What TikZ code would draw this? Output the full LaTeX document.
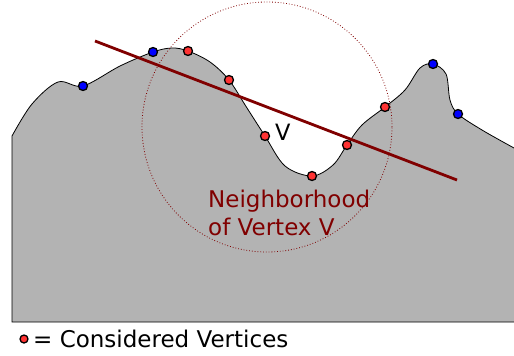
\documentclass[tikz,border=0pt]{standalone}
\usepackage{fontspec}
\setmainfont{DejaVu Sans}
\definecolor{dred}{HTML}{800000}
\definecolor{vred}{HTML}{FF3333}
\definecolor{vblue}{HTML}{0000FF}
\definecolor{terrain}{HTML}{B3B3B3}
\tikzset{
  vtx/.style={circle, draw=black, line width=1.3pt, inner sep=0pt, minimum size=9pt},
  redv/.style={vtx, fill=vred},
  bluev/.style={vtx, fill=vblue},
  lbl/.style={inner sep=0pt, anchor=west, align=left}
}
\begin{document}
\begin{tikzpicture}[x=1pt,y=-1pt]
\useasboundingbox (0,0) rectangle (514,356);
% terrain
\filldraw[fill=terrain, draw=black, line width=0.8pt] (514,322) -- (12,322) -- (12,136)
  -- plot[smooth, tension=0.55] coordinates {(12,136) (32,104) (58,82) (83,86) (120,66) (153,52) (172,48) (188,51) (210,62) (229,80) (247,108) (265,136) (285,166) (312,176) (333,165) (347,145) (362,125) (385,107) (405,90) (420,68) (433,64) (446,74) (450,100) (458,114) (482,130) (514,148)};
% neighborhood circle
\node (nb) [circle, draw=dred, dotted, line width=0.8pt, minimum size=250pt, inner sep=0pt] at (267,127) {};
% line
\coordinate (la) at (95,41);
\coordinate (lb) at (457,180);
\draw[dred, line width=2.8pt] (la) -- (lb);
% vertices
\node[bluev] (b1) at (83,86) {};
\node[bluev] (b2) at (153,52) {};
\node[bluev] (b3) at (433,64) {};
\node[bluev] (b4) at (458,114) {};
\node[redv] (r1) at (188,51) {};
\node[redv] (r2) at (229,80) {};
\node[redv] (r3) at (265,136) {};
\node[redv] (r4) at (312,176) {};
\node[redv] (r5) at (347,145) {};
\node[redv] (r6) at (385,107) {};
% labels
\node[lbl, font=\fontsize{22.5}{25}\selectfont] (vl) at (275,132) {V};
\node[lbl, text=dred, font=\fontsize{23}{28}\selectfont] (nl) at (208,213) {Neighborhood\\of Vertex V};
% legend
\node[redv, minimum size=8pt] (ld) at (24,339) {};
\node[lbl, font=\fontsize{23}{26}\selectfont] (lt) at (33,339) {= Considered Vertices};
\end{tikzpicture}
\end{document}
